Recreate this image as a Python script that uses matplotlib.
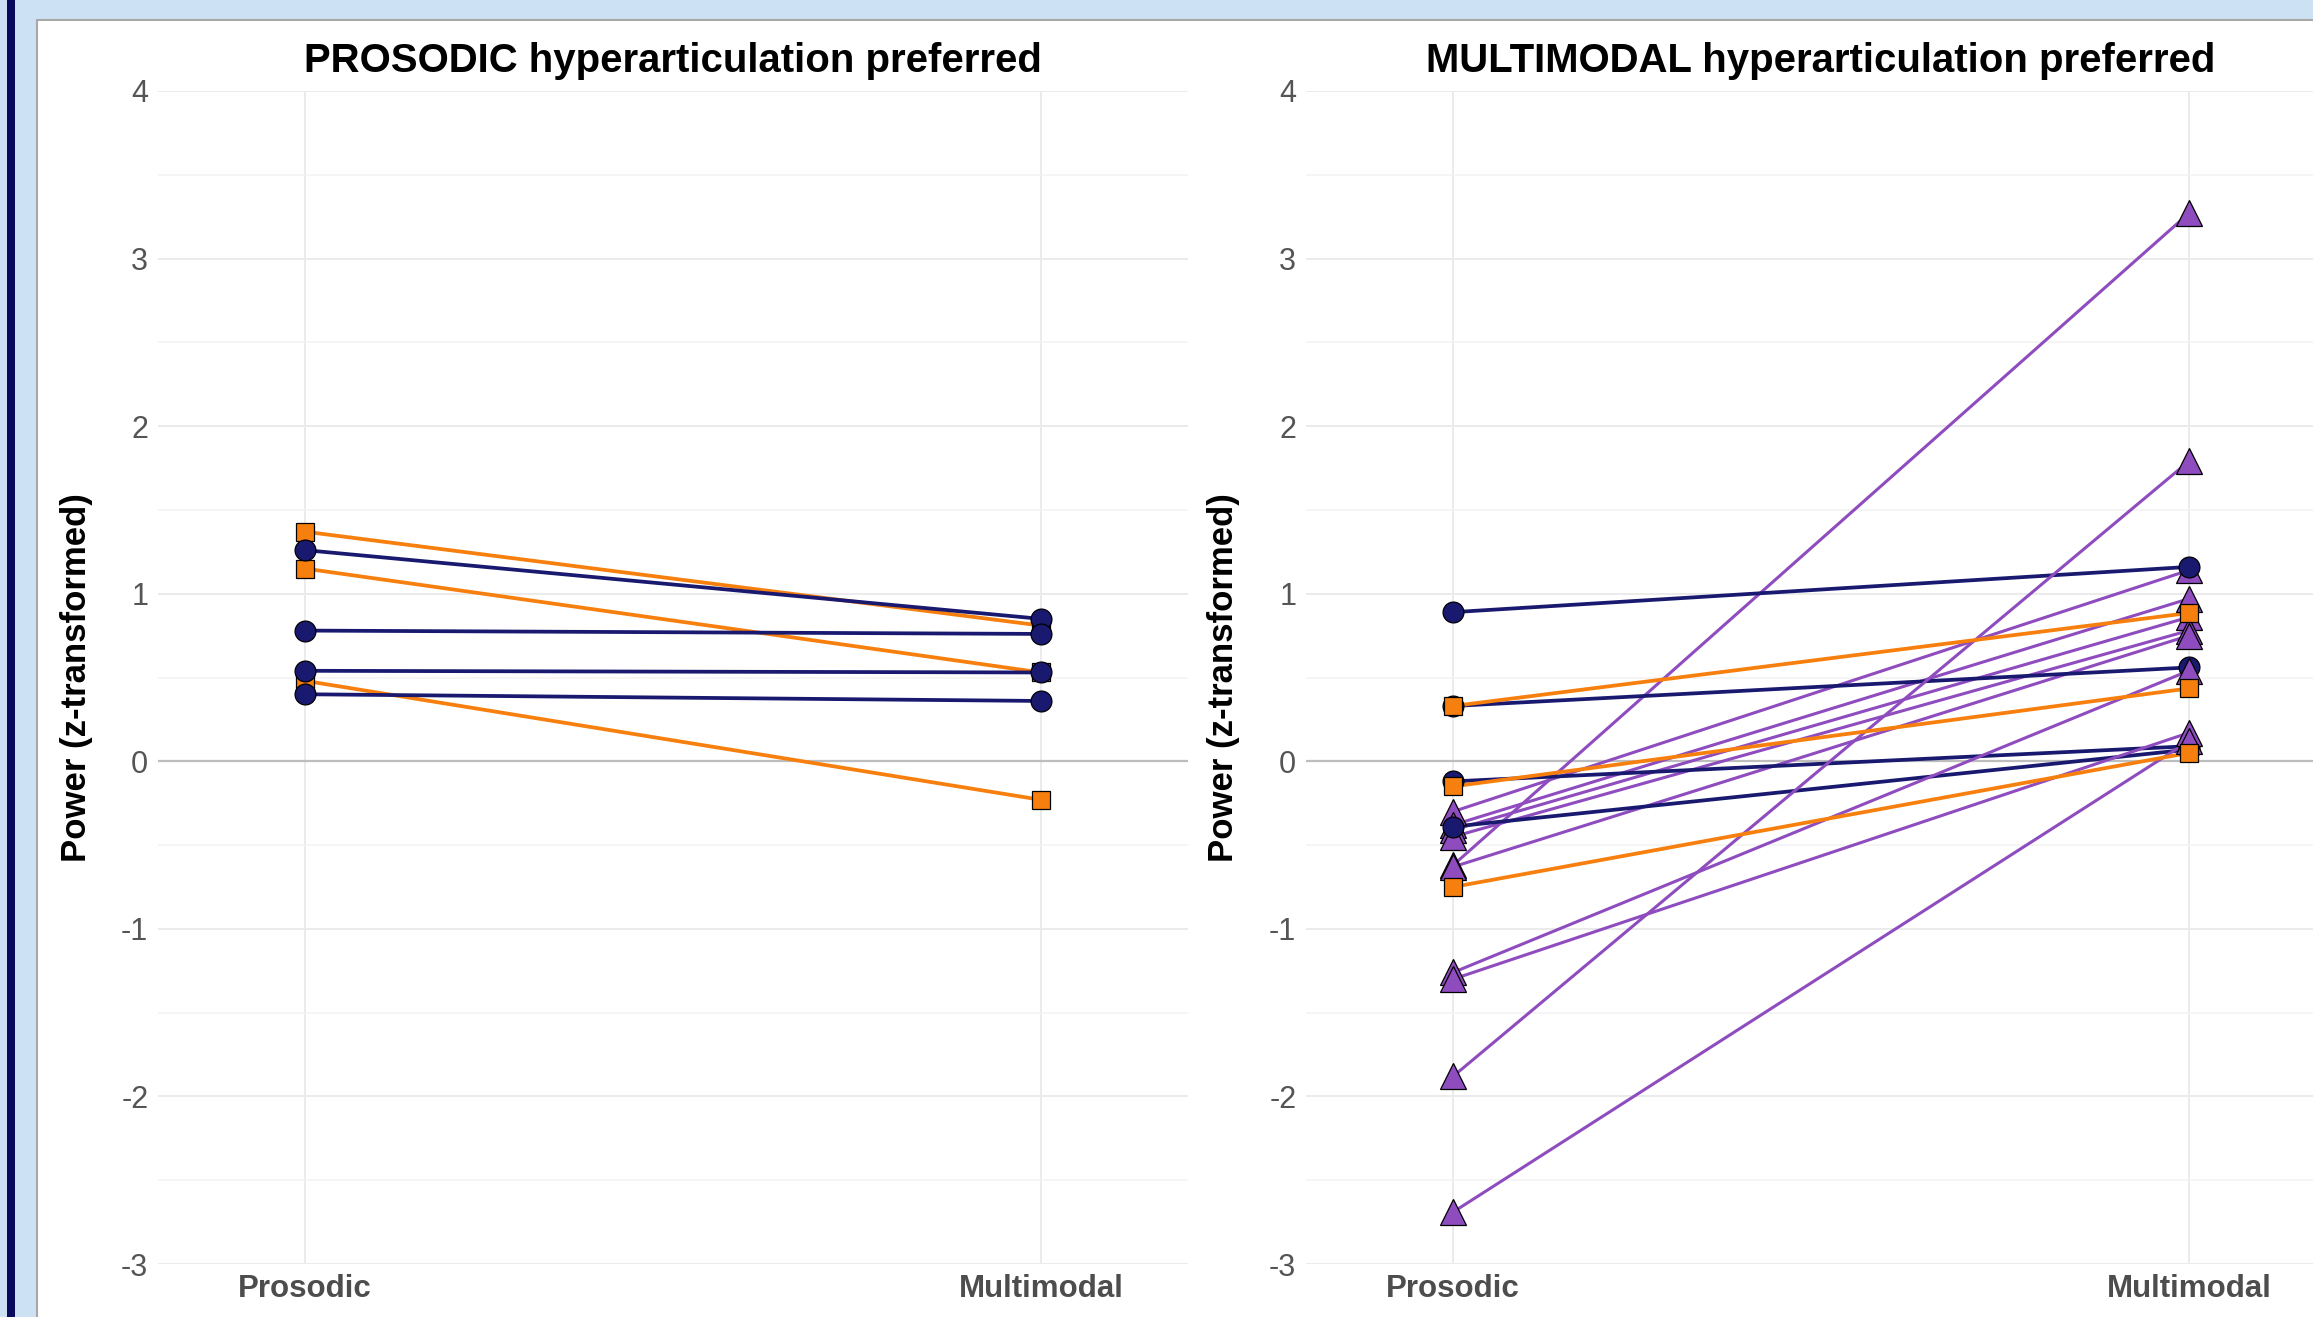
import matplotlib
matplotlib.use('Agg')
import matplotlib.pyplot as plt
from matplotlib.patches import Rectangle
from matplotlib.ticker import FixedLocator

plt.rcParams['font.family'] = ['Liberation Sans', 'DejaVu Sans']

# ---------------- data ----------------
conditions = ['Prosodic', 'Multimodal']
y_ticks = [-3, -2, -1, 0, 1, 2, 3, 4]
y_minor = [-2.5, -1.5, -0.5, 0.5, 1.5, 2.5, 3.5]
titles = ['PROSODIC hyperarticulation preferred',
          'MULTIMODAL hyperarticulation preferred']
y_label = 'Power (z-transformed)'

# Panel 1: prosodic hyperarticulation preferred (one entry per participant)
p1_group = ['B', 'B', 'B', 'A', 'A', 'A', 'A']
p1_prosodic = [1.37, 1.15, 0.48, 1.26, 0.78, 0.54, 0.40]
p1_multimodal = [0.81, 0.53, -0.23, 0.85, 0.76, 0.53, 0.36]

# Panel 2: multimodal hyperarticulation preferred
p2_group = ['C', 'C', 'C', 'C', 'C', 'C',
            'A', 'A', 'A', 'A',
            'C', 'C', 'C', 'C',
            'B', 'B', 'B']
p2_prosodic = [-0.30, -0.38, -0.41, -0.45, -0.62, -0.63,
               0.89, -0.39, 0.33, -0.12,
               -1.26, -1.30, -1.88, -2.69,
               0.33, -0.15, -0.75]
p2_multimodal = [1.14, 0.97, 0.86, 0.78, 3.27, 0.75,
                 1.16, 0.07, 0.56, 0.09,
                 0.54, 0.17, 1.79, 0.12,
                 0.885, 0.435, 0.05]

# ---------------- styles ----------------
colors = {'A': '#191970', 'B': '#F77F0E', 'C': '#8E4CBF'}
markers = {'A': 'o', 'B': 's', 'C': '^'}
msizes = {'A': 15.0, 'B': 13.5, 'C': 19.0}
lwidths = {'A': 2.7, 'B': 2.7, 'C': 2.2}

W, H = 2313, 1317
fig = plt.figure(figsize=(W / 100, H / 100), dpi=100)
fig.patch.set_facecolor('#cde1f4')
fig.patches.append(Rectangle((37 / W, -0.05), 1.1, 1.05 - 20 / H,
                             transform=fig.transFigure, facecolor='white',
                             edgecolor='#a8a8a8', linewidth=1.5, zorder=-10))
fig.patches.append(Rectangle((7 / W, -0.05), 8 / W, 1.1,
                             transform=fig.transFigure, facecolor='#0a0a5c',
                             edgecolor='none', zorder=-9))

ax_left_px = [158, 1306]
ax_width_px = 1030
panels = [(p1_group, p1_prosodic, p1_multimodal),
          (p2_group, p2_prosodic, p2_multimodal)]
ylabel_x = [77, 1224]

xpos = [1, 2]
for k, (grp, pv, mv) in enumerate(panels):
    ax = fig.add_axes([ax_left_px[k] / W, 53 / H, ax_width_px / W, 1173 / H])
    ax.set_facecolor('none')
    ax.set_xlim(0.8, 2.2)
    ax.set_ylim(-3, 4)
    ax.set_xticks(xpos)
    ax.set_xticklabels(conditions, fontsize=22.5, fontweight='bold', color='#4d4d4d')
    ax.set_yticks(y_ticks)
    ax.set_yticklabels([str(t) for t in y_ticks], fontsize=22, color='#555555')
    ax.yaxis.set_minor_locator(FixedLocator(y_minor))
    ax.tick_params(which='both', length=0)
    ax.tick_params(axis='x', pad=7)
    ax.tick_params(axis='y', pad=7)
    for s in ax.spines.values():
        s.set_visible(False)
    ax.grid(which='major', color='#ebebeb', linewidth=1.4, zorder=0)
    ax.grid(which='minor', axis='y', color='#f2f2f2', linewidth=1.1, zorder=0)
    ax.set_axisbelow(True)
    ax.axhline(0, color='#bdbdbd', linewidth=1.6, zorder=1)

    for g, p, m in zip(grp, pv, mv):
        ax.plot(xpos, [p, m], color=colors[g], linewidth=lwidths[g],
                solid_capstyle='butt', zorder=2)
    for i, (g, p, m) in enumerate(zip(grp, pv, mv)):
        ax.plot(xpos, [p, m], linestyle='none', marker=markers[g],
                markersize=msizes[g], markerfacecolor=colors[g],
                markeredgecolor='black', markeredgewidth=0.9, zorder=3 + i * 0.01)

    ax.text(0.5, 1 + (91 - 61) / 1173, titles[k], transform=ax.transAxes,
            ha='center', va='center', fontsize=28.9, fontweight='bold', color='black')
    fig.text(ylabel_x[k] / W, 1 - 677.5 / H, y_label, rotation=90,
             ha='center', va='center', fontsize=25, fontweight='bold', color='black')

fig.savefig('out.png', dpi=100, facecolor=fig.get_facecolor())
